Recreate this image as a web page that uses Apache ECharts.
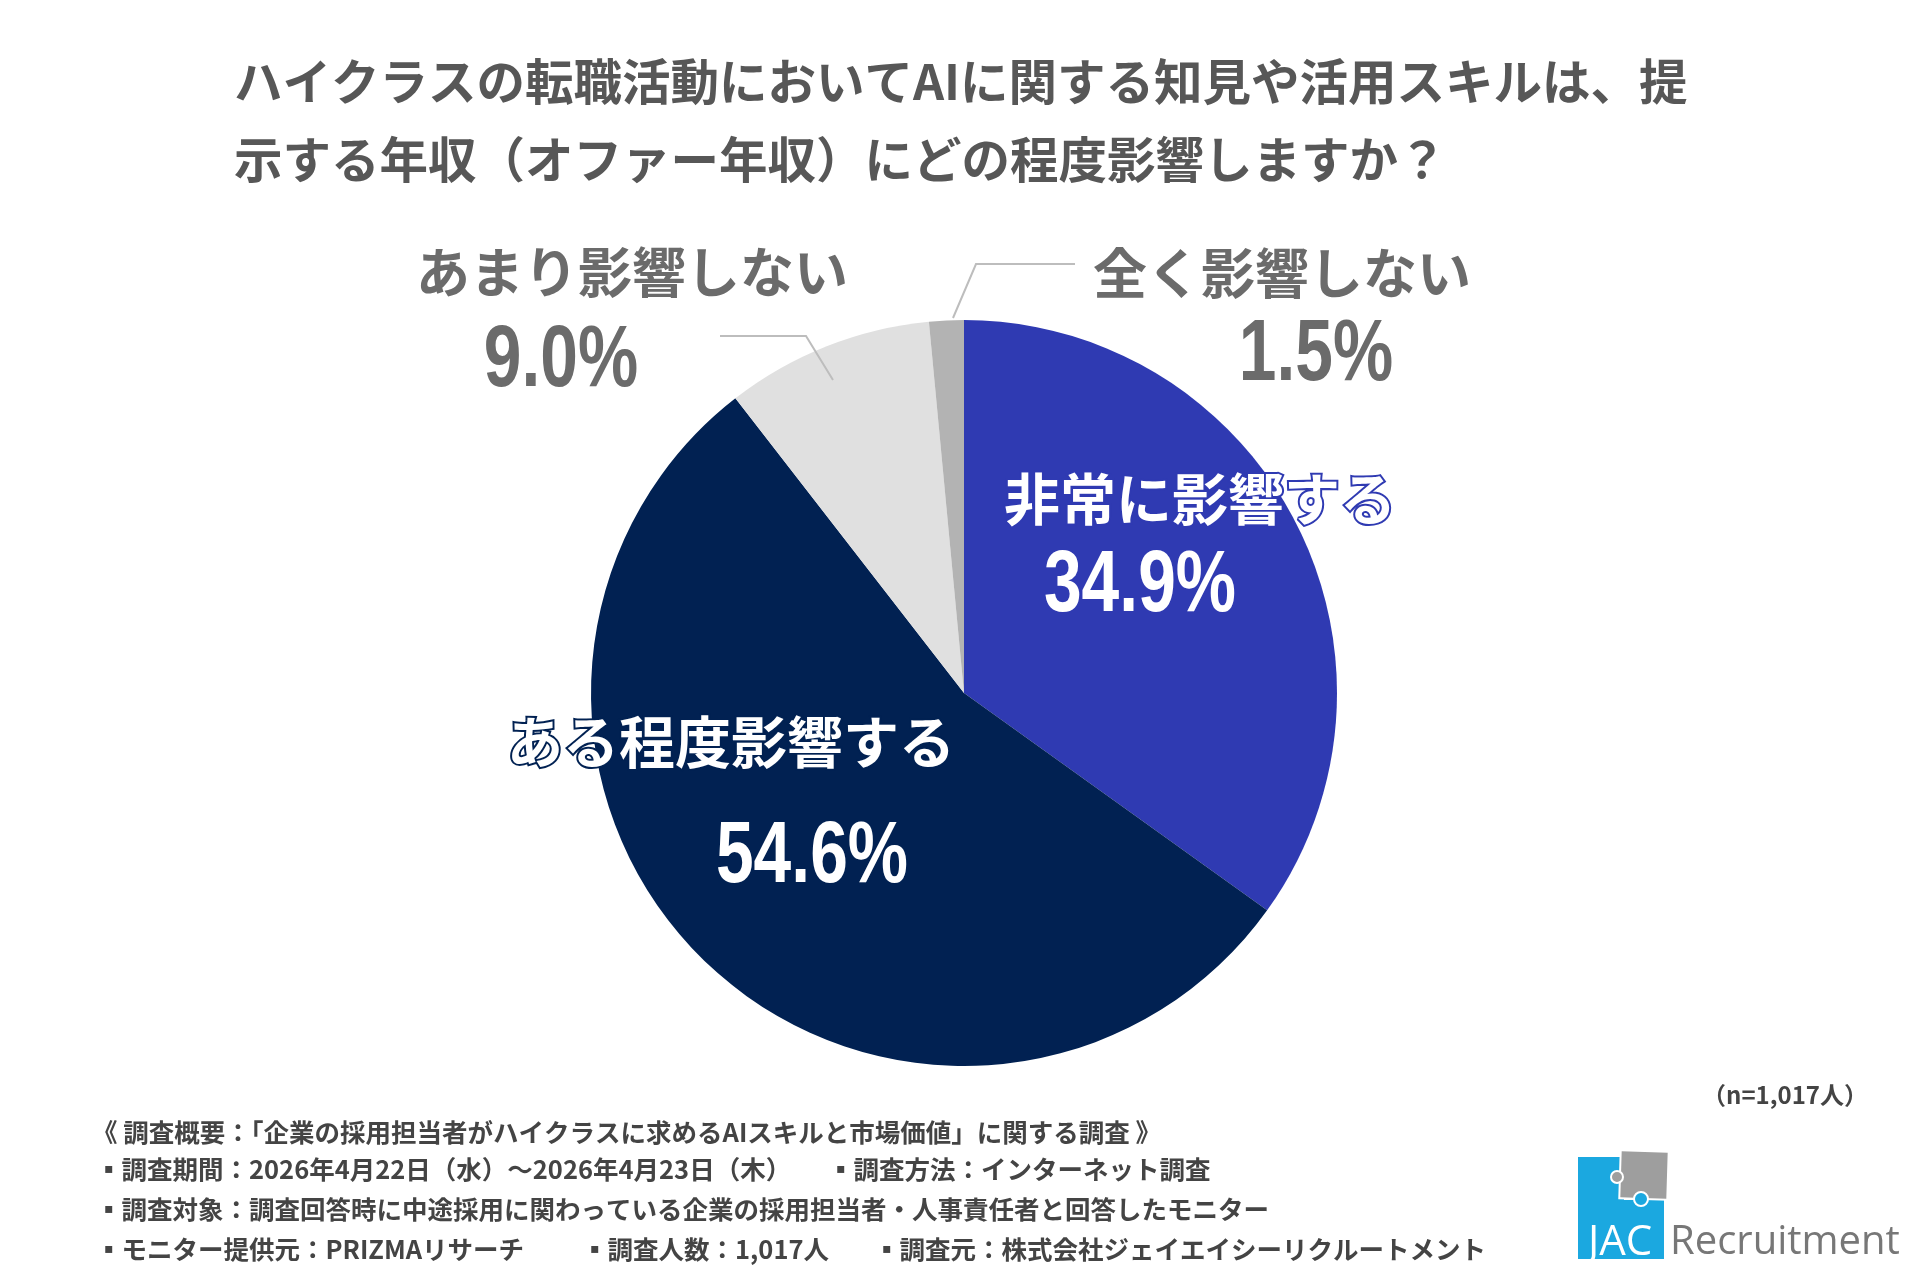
<!DOCTYPE html>
<html>
<head>
<meta charset="utf-8">
<script src="https://cdn.jsdelivr.net/npm/echarts@6/dist/echarts.min.js"></script>
<style>
  html, body { margin: 0; padding: 0; background: #fff; }
  #main { width: 1920px; height: 1280px; }
</style>
</head>
<body>
<div id="main"></div>
<script>
// データ
const categories = ['非常に影響する', 'ある程度影響する', 'あまり影響しない', '全く影響しない'];
const shares = [34.9, 54.6, 9.0, 1.5];
const titleLines = [
  'ハイクラスの転職活動においてAIに関する知見や活用スキルは、提',
  '示する年収（オファー年収）にどの程度影響しますか？'
];
const sampleNote = '（n=1,017人）';
const surveyHead = '《 調査概要：「企業の採用担当者がハイクラスに求めるAIスキルと市場価値」に関する調査 》';
const surveyRow2 = ['▪調査期間：2026年4月22日（水）～2026年4月23日（木）', '▪調査方法：インターネット調査'];
const surveyRow3 = ['▪調査対象：調査回答時に中途採用に関わっている企業の採用担当者・人事責任者と回答したモニター'];
const surveyRow4 = ['▪モニター提供元：PRIZMAリサーチ', '▪調査人数：1,017人', '▪調査元：株式会社ジェイエイシーリクルートメント'];

const sliceColors = ['#2f3ab2', '#012152', '#e0e0e0', '#b3b3b3'];
const CJK = '"Noto Sans CJK JP", sans-serif';

// ラベル位置 (名前の中心 / 数値の中心)
const labelSpots = [
  { nx: 1200, ny: 499, px: 1140, py: 587 },
  { nx: 731, ny: 742, px: 812, py: 858 },
  { nx: 632, ny: 272, px: 561, py: 362 },
  { nx: 1282, ny: 273, px: 1316, py: 356 }
];

const pieData = categories.map((name, i) => ({
  name: name,
  value: shares[i],
  itemStyle: { color: sliceColors[i] },
  label: i < 2
    ? { position: 'inside', color: '#fff', fontSize: 56, textBorderColor: sliceColors[i], textBorderWidth: 4 }
    : { position: 'outside', color: '#6b6b6b', fontSize: 54 },
  labelLine: { show: false }
}));

// 割合の数値 (細めの数字にするため横方向に縮める)
const pctTexts = shares.map((v, i) => ({
  type: 'text', z: 100,
  x: labelSpots[i].px, y: labelSpots[i].py,
  scaleX: 0.77,
  style: {
    text: v.toFixed(1) + '%', x: 0, y: 0,
    font: 'bold 88px "Liberation Sans", sans-serif',
    fill: i < 2 ? '#fff' : '#6b6b6b',
    align: 'center', verticalAlign: 'middle'
  }
}));

const footerFont = 'bold 25.5px "Noto Sans CJK JP"';
function footText(text, x, y) {
  return { type: 'text', z: 100, style: { text: text, x: x, y: y, font: footerFont, fill: '#444', verticalAlign: 'middle' } };
}

const chart = echarts.init(document.getElementById('main'));
chart.setOption({
  backgroundColor: '#fff',
  animation: false,
  title: {
    text: titleLines.join('\n'),
    left: 234, top: 43, padding: 0,
    textStyle: { fontFamily: CJK, fontSize: 48.5, fontWeight: 'bold', color: '#575757', lineHeight: 78 }
  },
  series: [{
    type: 'pie',
    center: [964, 693],
    radius: 373,
    startAngle: 90,
    clockwise: true,
    avoidLabelOverlap: false,
    silent: true,
    data: pieData,
    label: { show: true, formatter: '{b}', fontFamily: CJK, fontWeight: 'bold' },
    labelLayout: function (params) {
      const s = labelSpots[params.dataIndex];
      return { x: s.nx, y: s.ny, align: 'center', verticalAlign: 'middle' };
    }
  }],
  graphic: [
    { type: 'polyline', z: 100, shape: { points: [[833, 380], [806, 336], [720, 336]] }, style: { stroke: '#bdbdbd', lineWidth: 2, fill: null } },
    { type: 'polyline', z: 100, shape: { points: [[953, 318], [976, 264], [1075, 264]] }, style: { stroke: '#bdbdbd', lineWidth: 2, fill: null } },
    ...pctTexts,
    { type: 'text', z: 100, style: { text: sampleNote, x: 1868, y: 1095, font: 'bold 24px "Noto Sans CJK JP"', fill: '#444', align: 'right', verticalAlign: 'middle' } },
    footText(surveyHead, 92, 1132),
    footText(surveyRow2[0], 96, 1169),
    footText(surveyRow2[1], 828, 1169),
    footText(surveyRow3[0], 96, 1209),
    footText(surveyRow4[0], 96, 1249),
    footText(surveyRow4[1], 582, 1249),
    footText(surveyRow4[2], 874, 1249),
    // ロゴ
    { type: 'rect', z: 100, shape: { x: 1578, y: 1157, width: 46, height: 102 }, style: { fill: '#1ba8e0' } },
    { type: 'rect', z: 100, shape: { x: 1620, y: 1200, width: 44, height: 59 }, style: { fill: '#1ba8e0' } },
    { type: 'rect', z: 101, shape: { x: 1620, y: 1151, width: 48, height: 48 }, rotation: -0.03, originX: 1644, originY: 1175, style: { fill: '#9e9e9e', stroke: '#fff', lineWidth: 2 } },
    { type: 'circle', z: 102, shape: { cx: 1641, cy: 1199, r: 7 }, style: { fill: '#1ba8e0', stroke: '#fff', lineWidth: 2 } },
    { type: 'circle', z: 102, shape: { cx: 1617, cy: 1177, r: 6 }, style: { fill: '#9e9e9e', stroke: '#fff', lineWidth: 2 } },
    { type: 'text', z: 103, style: { text: 'JAC', x: 1588, y: 1243, font: '42px "Open Sans"', fill: '#fff', verticalAlign: 'middle' } },
    { type: 'text', z: 103, style: { text: 'Recruitment', x: 1670, y: 1243, font: '40px "Open Sans"', fill: '#777', verticalAlign: 'middle' } }
  ]
});
</script>
</body>
</html>
